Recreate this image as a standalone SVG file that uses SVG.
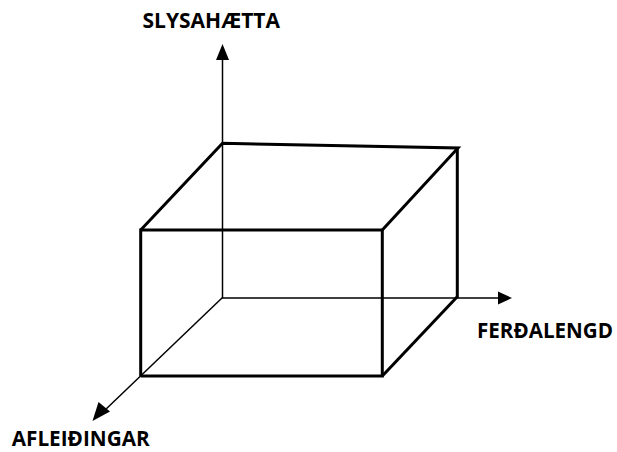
<svg xmlns="http://www.w3.org/2000/svg" width="617" height="452" viewBox="0 0 617 452">
<style>
.axis{stroke:#000;stroke-width:1.5;fill:none}
.box{stroke:#000;stroke-width:3;fill:none;stroke-linejoin:miter}
.lbl{font-family:"Open Sans","Liberation Sans",Arial,sans-serif;font-weight:bold;font-size:21px;fill:#000}
</style>
<rect width="617" height="452" fill="#fff"/>
<g id="connectors">
<line class="axis" x1="222.5" y1="298" x2="222.5" y2="60"/>
<path d="M216,60 L222.5,44 L229,60 Z" fill="#000"/>
<line class="axis" x1="222" y1="298" x2="498" y2="298"/>
<path d="M498,291.5 L512,298 L498,304.5 Z" fill="#000"/>
<line class="axis" x1="222.5" y1="297.5" x2="104" y2="411"/>
<path d="M98.5,402 L92.5,421 L110,411.5 Z" fill="#000"/>
</g>
<g id="box">
<polyline class="box" points="140.7,376 140.7,230 382.3,230 382.3,376 140.7,376"/>
<polyline class="box" points="140.7,230 222.5,143.3 458,148 382.3,230"/>
<line class="box" x1="457.3" y1="148" x2="457.3" y2="298"/>
<line class="box" x1="382.3" y1="376" x2="457" y2="297"/>
</g>
<g id="label-slysahaetta"><text class="lbl" x="142.5" y="28.3" textLength="137.5" lengthAdjust="spacingAndGlyphs">SLYSAHÆTTA</text></g>
<g id="label-ferdalengd"><text class="lbl" x="477" y="337.7" textLength="136" lengthAdjust="spacingAndGlyphs">FERÐALENGD</text></g>
<g id="label-afleidingar"><text class="lbl" x="11.7" y="446" textLength="138" lengthAdjust="spacingAndGlyphs">AFLEIÐINGAR</text></g>
</svg>
